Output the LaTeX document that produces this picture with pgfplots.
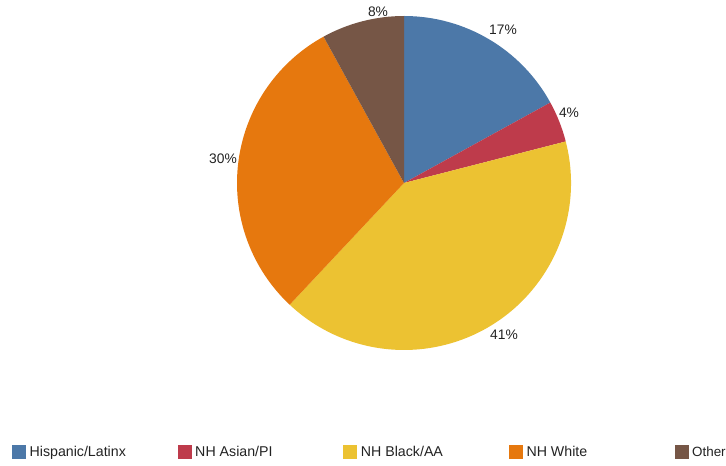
\documentclass[border=0pt]{standalone}
\usepackage{fontspec}
\setmainfont{Liberation Sans}
\usepackage{pgfplots}
\usepackage{pgfplotstable}
\pgfplotsset{compat=1.18}

\definecolor{pieblue}{HTML}{4C78A8}
\definecolor{piered}{HTML}{BE3B4B}
\definecolor{pieyellow}{HTML}{ECC232}
\definecolor{pieorange}{HTML}{E6780E}
\definecolor{piebrown}{HTML}{765646}
\definecolor{txt}{HTML}{222222}

% share in percent, label position (px from left, px from bottom)
\pgfplotstableread{
label              share  color      lx   ly
Hispanic/Latinx    17     pieblue    503  436
{NH Asian/PI}      4      piered     569  353
{NH Black/AA}      41     pieyellow  504  131
{NH White}         30     pieorange  223  307
Other              8      piebrown   378  454
}\piedata

\begin{document}
\begin{tikzpicture}
\begin{axis}[
    x=1pt, y=1pt,
    xmin=0, xmax=726, ymin=0, ymax=466,
    hide axis, clip=false,
    legend columns=5,
    legend image code/.code={\fill[#1] (0pt,-6.5pt) rectangle (13pt,6.5pt);},
    legend style={
        draw=none, fill=none, inner sep=0pt,
        at={(axis cs:12,14)}, anchor=west,
        font=\fontsize{14.2}{16}\selectfont, text=txt,
        nodes={inner sep=0pt, anchor=west},
        /tikz/every odd column/.append style={column sep=4pt},
    },
]
\path (axis cs:0,0) rectangle (axis cs:726,466);

\pgfmathsetmacro\cum{0}
\pgfplotsforeachungrouped \i in {0,...,4}{%
    \pgfplotstablegetelem{\i}{share}\of\piedata \let\s=\pgfplotsretval
    \pgfplotstablegetelem{\i}{color}\of\piedata \let\c=\pgfplotsretval
    \pgfplotstablegetelem{\i}{lx}\of\piedata \let\lx=\pgfplotsretval
    \pgfplotstablegetelem{\i}{ly}\of\piedata \let\ly=\pgfplotsretval
    \pgfmathsetmacro\a{90-3.6*\cum}
    \pgfmathsetmacro\b{90-3.6*(\cum+\s)}
    \pgfmathsetmacro\cum{\cum+\s}
    \edef\temp{%
        \noexpand\fill[\c] (axis cs:404,283) -- ++(\a:167pt)
            arc[start angle=\a, end angle=\b, radius=167pt] -- cycle;
        \noexpand\node[text=txt, font=\noexpand\fontsize{13.8}{15}\noexpand\selectfont]
            at (axis cs:\lx,\ly) {\s\noexpand\%};
    }%
    \temp
}

\addlegendimage{pieblue}\addlegendentry{\makebox[148.25pt][l]{Hispanic/Latinx}}
\addlegendimage{piered}\addlegendentry{\makebox[148.25pt][l]{NH Asian/PI}}
\addlegendimage{pieyellow}\addlegendentry{\makebox[148.25pt][l]{NH Black/AA}}
\addlegendimage{pieorange}\addlegendentry{\makebox[148.25pt][l]{NH White}}
\addlegendimage{piebrown}\addlegendentry{\makebox[33pt][l]{\fontsize{13.4}{16}\selectfont Other}}
\end{axis}
\end{tikzpicture}
\end{document}
